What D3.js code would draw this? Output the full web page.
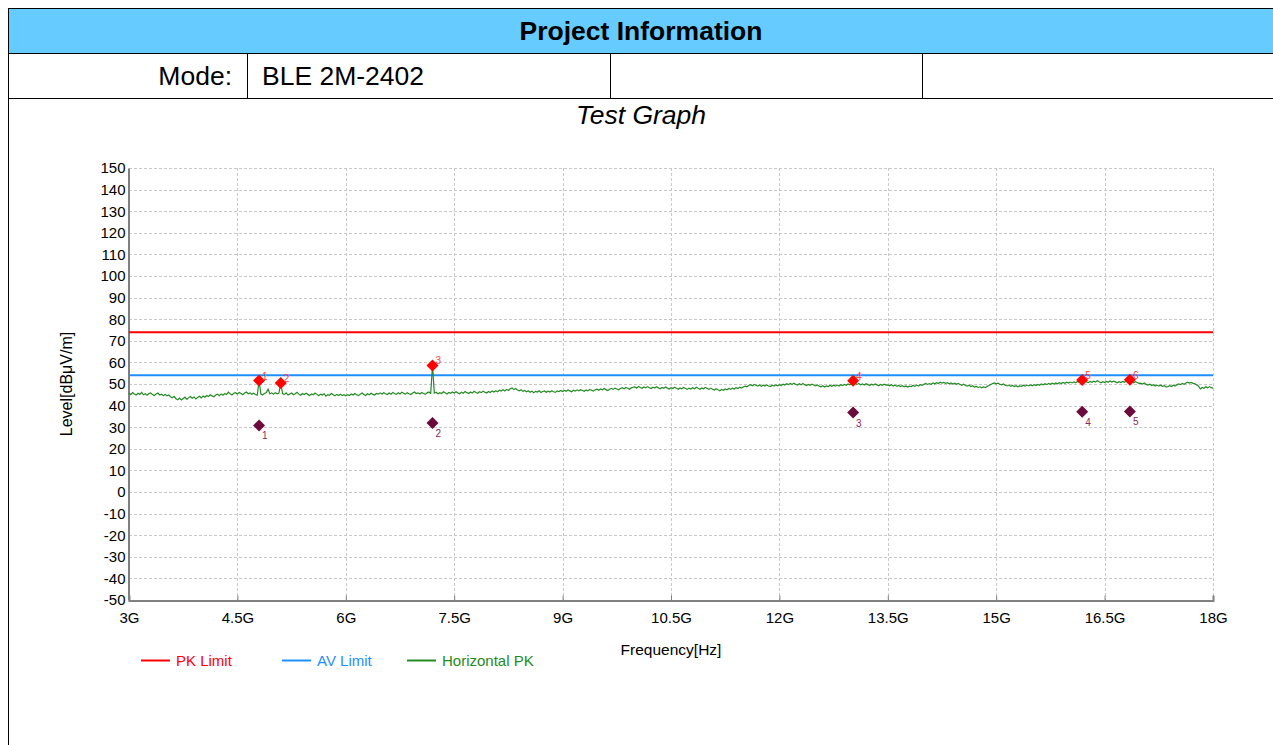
<!DOCTYPE html>
<html>
<head>
<meta charset="utf-8">
<script src="https://cdn.jsdelivr.net/npm/d3@7"></script>
<style>
  html, body { margin: 0; padding: 0; background: #fff; }
  svg { display: block; font-family: "Liberation Sans", Arial, sans-serif; }
</style>
</head>
<body>
<svg id="chart" width="1273" height="745"></svg>
<script>
// ---------------- data ----------------
const xTickValues = [3, 4.5, 6, 7.5, 9, 10.5, 12, 13.5, 15, 16.5, 18];
const xTickLabels = ["3G", "4.5G", "6G", "7.5G", "9G", "10.5G", "12G", "13.5G", "15G", "16.5G", "18G"];
const yTickValues = [150, 140, 130, 120, 110, 100, 90, 80, 70, 60, 50, 40, 30, 20, 10, 0, -10, -20, -30, -40, -50];

const pkLimit = 74;
const avLimit = 54;

// sweep: 3 GHz .. 18 GHz, evenly spaced readings (0.025 GHz)
const traceStartGHz = 3.0;
const traceStopGHz = 18.0;
const horizontalPK = [
  45.8,45.1,46.0,45.4,44.9,45.7,45.2,46.1,45.0,45.5,44.8,45.6,45.9,45.1,44.7,45.4,45.8,44.9,45.3,44.6,
  45.2,44.5,44.9,44.1,43.6,44.3,43.2,42.7,43.5,42.6,43.3,43.9,42.9,43.7,44.2,43.4,44.0,43.1,43.8,44.3,
  43.6,44.4,43.9,44.7,44.2,45.0,44.5,44.1,44.9,45.3,44.6,45.4,44.8,45.6,45.1,46.2,45.5,44.9,45.7,46.0,
  45.4,46.1,45.6,45.0,45.8,46.3,45.5,45.9,45.2,45.7,45.1,44.8,51.6,45.3,45.0,45.6,46.0,47.6,45.4,45.9,
  45.3,46.0,45.5,45.8,50.5,45.6,45.1,45.9,44.9,45.4,45.8,45.0,45.5,46.2,45.3,44.8,45.6,45.1,45.7,45.2,
  44.7,45.4,45.0,45.8,45.2,44.6,45.3,44.9,45.5,44.4,45.1,44.8,45.6,45.0,44.5,45.2,44.7,45.3,44.6,45.0,
  44.5,45.1,44.7,45.4,44.9,45.6,45.0,44.6,45.3,45.8,45.1,44.7,45.5,45.0,45.7,45.2,44.9,45.6,45.3,45.9,
  45.4,46.0,45.5,45.1,45.8,45.3,46.1,45.6,45.2,45.9,45.4,46.2,45.7,45.3,46.0,45.5,45.1,45.8,46.3,45.6,
  45.9,45.4,46.1,45.6,45.2,45.9,46.3,45.7,58.6,45.8,46.2,45.5,46.0,45.6,46.4,45.9,45.4,46.1,45.7,46.3,
  45.8,46.4,45.9,45.5,46.2,45.7,46.5,46.0,45.6,46.3,45.8,46.6,46.1,45.7,46.4,46.0,46.7,46.2,45.8,46.5,
  46.1,46.8,46.3,46.9,46.4,47.1,46.7,47.3,46.8,47.5,47.0,47.8,48.2,47.4,47.9,47.2,46.8,47.3,46.6,47.0,
  46.4,46.9,46.2,46.7,46.0,46.6,46.3,46.9,46.1,46.5,46.8,46.2,46.7,46.3,46.9,46.4,46.1,46.8,46.5,47.0,
  46.5,47.0,46.6,47.2,46.8,46.4,47.1,46.7,47.3,46.9,47.4,47.0,46.6,47.2,46.8,47.5,47.1,46.7,47.3,47.6,
  47.1,47.7,47.3,47.9,47.4,47.0,47.6,48.0,47.5,48.1,47.7,47.3,47.9,48.3,47.8,48.4,48.0,47.6,48.2,48.5,
  48.7,48.1,48.9,48.4,48.0,48.6,48.2,48.8,48.3,47.9,48.5,48.1,48.7,48.2,47.8,48.4,48.0,48.6,48.1,47.7,
  48.3,47.9,48.5,48.0,47.6,48.2,47.8,48.4,47.9,47.5,48.1,47.7,48.3,47.8,48.5,48.0,47.6,48.2,47.8,48.4,
  47.9,47.5,48.1,47.6,47.2,47.8,47.3,46.9,47.5,47.1,47.7,47.3,47.9,47.5,48.1,47.7,48.3,47.9,48.5,48.1,
  48.6,49.0,48.7,49.3,49.7,49.2,49.8,49.4,49.0,49.5,48.9,49.4,49.0,49.6,49.1,48.8,49.4,49.0,49.6,49.2,
  49.7,49.3,49.9,49.5,50.1,49.7,50.3,49.8,50.4,49.9,49.5,50.1,49.6,50.2,49.7,49.3,49.8,49.4,49.9,49.5,
  49.1,49.6,49.0,48.7,49.2,48.6,49.1,48.8,49.3,48.9,49.4,49.0,49.5,49.1,49.7,49.3,49.8,49.4,50.0,49.6,
  50.1,49.7,50.3,49.8,50.2,49.6,50.0,49.5,50.1,49.7,49.3,49.9,49.5,50.0,49.6,49.2,49.8,49.4,49.9,49.5,
  49.6,49.2,49.7,49.1,49.5,48.9,49.3,48.8,49.2,48.7,49.1,48.6,49.0,48.8,49.3,48.9,49.5,49.1,49.7,49.4,
  49.9,50.3,49.8,50.2,49.9,50.5,50.1,50.6,50.2,50.8,50.4,50.7,50.3,50.6,50.1,50.5,50.0,50.4,49.9,50.3,
  49.8,49.4,49.9,49.3,49.0,49.4,48.8,49.2,48.6,48.9,48.4,48.7,48.2,48.6,48.3,48.9,49.3,49.8,50.2,50.5,
  50.1,50.4,49.9,49.6,50.0,49.4,49.1,49.5,48.9,49.3,48.8,49.2,48.7,49.1,48.9,49.4,49.0,49.5,49.1,49.6,
  49.2,49.7,49.3,49.8,49.4,50.0,49.6,50.1,49.7,50.3,49.9,50.4,50.0,50.5,50.1,50.6,50.2,50.7,50.3,50.8,
  50.4,50.9,50.5,51.0,50.6,51.2,50.8,51.3,50.9,51.4,51.0,50.7,51.2,50.8,51.3,50.9,51.5,51.0,50.6,51.1,
  50.7,51.2,50.8,51.4,50.9,51.3,51.0,50.6,51.1,50.7,51.2,50.8,51.4,50.9,50.5,51.0,50.6,51.1,50.7,50.3,
  50.4,50.0,50.5,49.8,49.5,49.9,49.3,49.7,49.1,49.5,49.0,49.4,48.9,49.2,48.7,48.8,49.2,48.8,49.4,49.0,
  49.6,50.0,49.7,50.3,49.9,50.5,50.8,50.4,50.7,50.3,50.1,49.6,49.0,47.7,48.4,48.0,48.7,48.2,48.8,48.3,
  48.1
];

// peak markers
const pkLabels = ["1", "2", "3", "4", "5", "6"];
const pkFreqs  = [4.80, 5.10, 7.20, 13.02, 16.19, 16.85];
const pkLevels = [51.6, 50.5, 58.6, 51.5, 51.9, 52.0];

// average markers
const avLabels = ["1", "2", "3", "4", "5"];
const avFreqs  = [4.80, 7.20, 13.02, 16.19, 16.85];
const avLevels = [30.8, 32.0, 36.8, 37.2, 37.3];

const legendNames  = ["PK Limit", "AV Limit", "Horizontal PK"];
const legendColors = ["#ff0000", "#1e8fff", "#228b22"];

// ---------------- drawing ----------------
const svg = d3.select("#chart");
const W = 1273, H = 745;
const FONT = "Liberation Sans, Arial, sans-serif";

// header table
const hdr = svg.append("g");
hdr.append("rect").attr("x", 8.5).attr("y", 8.5).attr("width", W).attr("height", 45)
  .attr("fill", "#66ccff").attr("stroke", "#000").attr("stroke-width", 1);
hdr.append("text").attr("x", 641).attr("y", 40).attr("text-anchor", "middle")
  .attr("font-size", 26.5).attr("font-weight", "bold").text("Project Information");
hdr.append("rect").attr("x", 8.5).attr("y", 53.5).attr("width", W).attr("height", 45)
  .attr("fill", "none").attr("stroke", "#000").attr("stroke-width", 1);
[247.5, 610.5, 922.5].forEach(xx => hdr.append("line").attr("x1", xx).attr("x2", xx)
  .attr("y1", 53.5).attr("y2", 98.5).attr("stroke", "#000"));
hdr.append("text").attr("x", 232).attr("y", 85).attr("text-anchor", "end")
  .attr("font-size", 26.5).text("Mode:");
hdr.append("text").attr("x", 262).attr("y", 85)
  .attr("font-size", 26.5).text("BLE 2M-2402");
hdr.append("line").attr("x1", 8.5).attr("x2", 8.5).attr("y1", 98.5).attr("y2", H)
  .attr("stroke", "#000");
hdr.append("text").attr("x", 641).attr("y", 124).attr("text-anchor", "middle")
  .attr("font-size", 26.5).attr("font-style", "italic").text("Test Graph");

// scales
const x = d3.scaleLinear().domain([3, 18]).range([129, 1213]);
const y = d3.scaleLinear().domain([-50, 150]).range([600, 168]);
const idxToFreq = d3.scaleLinear().domain([0, horizontalPK.length - 1]).range([traceStartGHz, traceStopGHz]);

// grid
const grid = svg.append("g");
grid.selectAll(".gx").data(xTickValues).join("line")
  .attr("x1", d => Math.round(x(d)) + 0.5).attr("x2", d => Math.round(x(d)) + 0.5)
  .attr("y1", y(150)).attr("y2", y(-50))
  .attr("stroke", "#c8c8c8").attr("stroke-dasharray", "3,2");
grid.selectAll(".gy").data(yTickValues).join("line")
  .attr("x1", x(3)).attr("x2", x(18))
  .attr("y1", d => Math.round(y(d)) + 0.5).attr("y2", d => Math.round(y(d)) + 0.5)
  .attr("stroke", "#c8c8c8").attr("stroke-dasharray", "3,2");

// axes
const xAxis = d3.axisBottom(x).tickValues(xTickValues)
  .tickFormat((d, i) => xTickLabels[i]).tickSize(-5).tickPadding(12);
const gx = svg.append("g").attr("transform", "translate(0,600.5)").call(xAxis);
gx.select(".domain").attr("stroke", "#808080").attr("stroke-width", 2);
gx.selectAll(".tick line").attr("stroke", "#808080");
gx.selectAll(".tick text").attr("font-size", 15).attr("fill", "#000").attr("font-family", FONT);

const yAxis = d3.axisLeft(y).tickValues(yTickValues).tickFormat(d => String(d)).tickSize(0).tickPadding(3);
const gy = svg.append("g").attr("transform", "translate(128.5,0)").call(yAxis);
gy.select(".domain").attr("stroke", "#808080").attr("stroke-width", 2);
gy.selectAll(".tick text").attr("font-size", 15).attr("fill", "#000").attr("font-family", FONT);

svg.append("text").attr("x", 671).attr("y", 655).attr("text-anchor", "middle")
  .attr("font-size", 15.5).text("Frequency[Hz]");
svg.append("text").attr("transform", "translate(72,384) rotate(-90)")
  .attr("text-anchor", "middle").attr("font-size", 16).text("Level[dBμV/m]");

// limit lines
svg.append("line").attr("x1", x(3)).attr("x2", x(18)).attr("y1", y(pkLimit)).attr("y2", y(pkLimit))
  .attr("stroke", legendColors[0]).attr("stroke-width", 2);
svg.append("line").attr("x1", x(3)).attr("x2", x(18)).attr("y1", y(avLimit)).attr("y2", y(avLimit))
  .attr("stroke", legendColors[1]).attr("stroke-width", 2);

// trace
const line = d3.line()
  .x((d, i) => x(idxToFreq(i)))
  .y(d => y(d));
svg.append("path").datum(horizontalPK).attr("d", line)
  .attr("fill", "none").attr("stroke", legendColors[2]).attr("stroke-width", 1.2);

// markers
const diamond = "M0,-6L6,0L0,6L-6,0Z";
const pkData = pkFreqs.map((f, i) => ({ f, v: pkLevels[i], l: pkLabels[i] }));
const avData = avFreqs.map((f, i) => ({ f, v: avLevels[i], l: avLabels[i] }));

svg.selectAll(".av").data(avData).join("path")
  .attr("d", diamond).attr("transform", d => `translate(${x(d.f)},${y(d.v)})`)
  .attr("fill", "#6b0a3c");
svg.selectAll(".avl").data(avData).join("text")
  .attr("x", d => x(d.f) + 3).attr("y", d => y(d.v) + 14)
  .attr("font-size", 10).attr("fill", "#8b2a5a").text(d => d.l);

svg.selectAll(".pk").data(pkData).join("path")
  .attr("d", diamond).attr("transform", d => `translate(${x(d.f)},${y(d.v)})`)
  .attr("fill", "#ff0000");
svg.selectAll(".pkl").data(pkData).join("text")
  .attr("x", d => x(d.f) + 3).attr("y", d => y(d.v) - 1)
  .attr("font-size", 10).attr("fill", "#ff4040").text(d => d.l);

// legend
const legX = [141, 282, 407];
const leg = svg.append("g");
legendNames.forEach((name, i) => {
  leg.append("line").attr("x1", legX[i]).attr("x2", legX[i] + 29)
    .attr("y1", 660.5).attr("y2", 660.5).attr("stroke", legendColors[i]).attr("stroke-width", 2);
  leg.append("text").attr("x", legX[i] + 35).attr("y", 665.5)
    .attr("font-size", 15).attr("fill", legendColors[i]).text(name);
});
</script>
</body>
</html>
